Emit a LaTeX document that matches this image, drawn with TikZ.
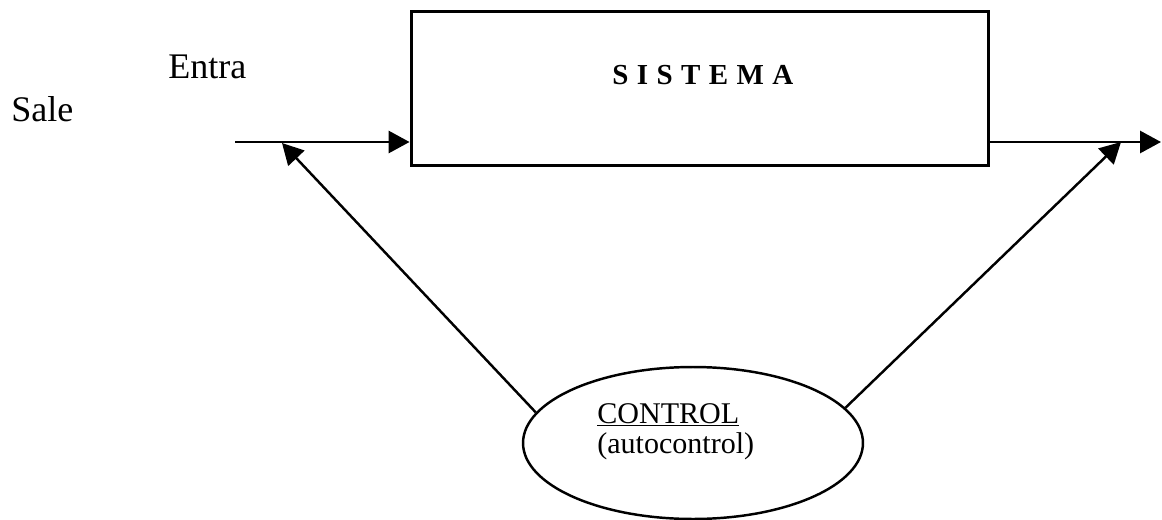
\documentclass[tikz,border=0pt]{standalone}
\usepackage{fontspec}
\setmainfont{Liberation Serif}
\usetikzlibrary{shapes.geometric,arrows.meta,positioning}

\begin{document}
\begin{tikzpicture}[x=0.02cm, y=-0.02cm,
        flow/.style={line width=1.7pt, -{Triangle[length=0.42cm, width=0.44cm]}},
        feedback/.style={line width=1.4pt, -{Triangle[length=0.42cm, width=0.44cm]}},
        sidetext/.style={anchor=base west, inner sep=0pt, font=\fontsize{20.5}{24}\selectfont},
        ctrltext/.style={anchor=base west, inner sep=0pt, font=\fontsize{17.1}{20}\selectfont}]
        \useasboundingbox (0,0) rectangle (1162,520);

        \node [rectangle, draw, line width=1.7pt, minimum width=11.56cm, minimum height=3.1cm, inner sep=0pt] (sistema) at (700,88.5) {};
        \node [anchor=base west, inner sep=0pt, font=\fontsize{16.5}{20}\selectfont\bfseries\addfontfeature{LetterSpace=29}] (titulo) at (612,85) {SISTEMA};
        \node [ellipse, draw, line width=1.4pt, minimum width=6.8cm, minimum height=3.04cm, inner sep=0pt] (ctrl) at (693,443) {};
        \node [ctrltext] (ctrltitulo) at (597,423) {\underline{CONTROL}};
        \node [ctrltext] (ctrlsub) at (597,453) {(autocontrol)};

        \node [sidetext] (entra) at (168,79) {Entra};
        \node [sidetext] (sale) at (11,122) {Sale};

        \coordinate (inicio) at (235,142);
        \coordinate (fin) at (1161,142);
        \coordinate (pinA) at (282,143);
        \coordinate (pinB) at (1121,142);

        \draw [flow] (inicio) -- (inicio -| sistema.west);
        \draw [flow] (fin -| sistema.east) -- (fin);
        \draw [feedback] (ctrl.169) -- (pinA);
        \draw [feedback] (ctrl.13) -- (pinB);
    \end{tikzpicture}
\end{document}
